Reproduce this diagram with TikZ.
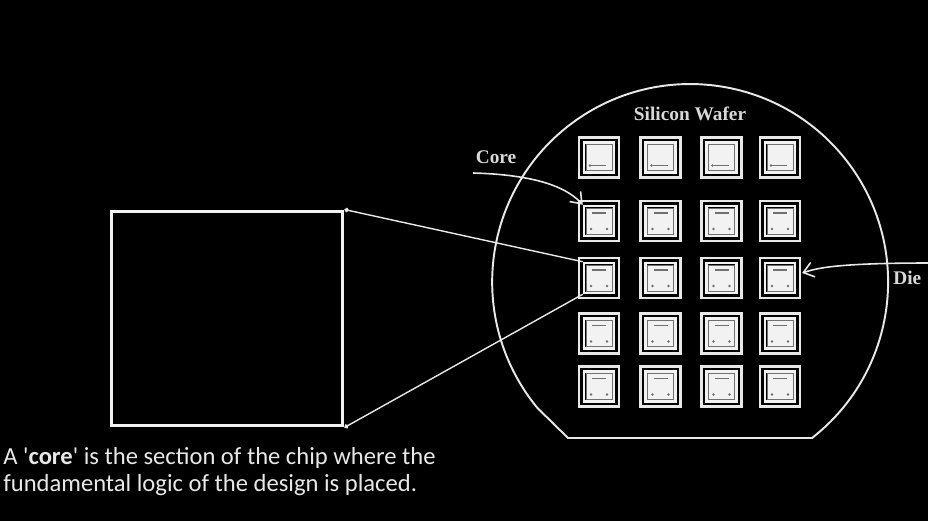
\documentclass[tikz,border=0pt]{standalone}
\usepackage{fontspec}
\setmainfont{Carlito}
\newfontfamily\labelfont{Liberation Serif}
\usepackage{tikz}
\usetikzlibrary{arrows.meta, positioning, calc}
\definecolor{linegray}{HTML}{E8E8E8}
\definecolor{textgray}{HTML}{D8D8D8}
\definecolor{markgray}{HTML}{707070}
\definecolor{diewhite}{HTML}{F2F2F2}
\tikzset{
    diebox/.style={rectangle, draw=linegray, line width=1.2pt, minimum size=0.8cm, inner sep=0pt},
    dieframe/.style={rectangle, draw=diewhite, line width=1.4pt, minimum size=0.6cm, inner sep=0pt},
    diecore/.style={rectangle, draw=markgray, fill=diewhite, line width=0.4pt, minimum size=0.52cm, inner sep=0pt},
    diemark/.style={draw=markgray, line width=0.6pt},
    corebox/.style={rectangle, draw=diewhite, line width=1.7pt, minimum width=4.64cm, minimum height=4.3cm, inner sep=0pt},
    waferlabel/.style={font=\labelfont\bfseries\fontsize{11}{13}\selectfont, text=textgray, inner sep=0pt},
    zoomline/.style={draw=linegray, line width=0.8pt},
    pointer/.style={draw=linegray, line width=0.9pt, -{Straight Barb[length=2mm, width=3mm]}}
}

\begin{document}
\begin{tikzpicture}[x=0.02cm, y=0.02cm]
% Wafer with a 5x4 grid of dies; one die blown up as the core.
  \fill[black] (0,0) rectangle (928,521);
  \useasboundingbox (0,0) rectangle (928,521);
  \draw[linegray, line width=1.1pt] (568,83) -- (812,83)
      arc[start angle=-52, end angle=219.5, radius=3.96cm] -- cycle;
  \node[waferlabel] (wafer-label) at (690,407) {Silicon Wafer};
  \foreach \y [count=\r] in {363.5, 300, 243, 187.5, 134.5} {
    \foreach \x [count=\c] in {599, 660.5, 721.5, 780} {
      \node[diebox] (d-\r-\c) at (\x,\y) {};
      \node[dieframe] (c-\r-\c) at (\x,\y) {};
      \node[diecore] at (\x,\y) {};
      \ifnum\r=1
        \draw[diemark] (\x-8,\y-8) -- (\x+7,\y-8);
        \fill[markgray] (\x-9,\y-8) circle (0.8pt);
      \else
        \draw[diemark] (\x-7,\y+8) -- (\x+7,\y+8);
        \fill[markgray] (\x-8,\y-8) circle (0.8pt);
        \fill[markgray] (\x+8,\y-8) circle (0.8pt);
      \fi
    }
  }
  \node[corebox] (core-box) at (227,202.5) {};
  \draw[zoomline, {Circle[length=2.5pt]}-] (core-box.north east) -- (c-3-1.north west);
  \draw[zoomline, {Circle[length=2.5pt]}-] (core-box.south east) -- (c-3-1.south west);
  \node[waferlabel] (core-label) at (496,364) {Core};
  \coordinate (core-tail) at (473,348);
  \draw[pointer] (core-tail) .. controls (545,346) and (570,330) .. (c-2-1.north west);
  \node[waferlabel, anchor=west] (die-label) at (893,243) {Die};
  \coordinate (die-tail) at (930,258);
  \draw[pointer] (die-tail) .. controls (830,258) and (815,252) .. ($(d-3-4.east)+(1,5)$);
  \node[anchor=north west, align=left, inner sep=0pt, text=linegray,
        font=\fontsize{14}{15.3}\selectfont] (caption) at (3,74)
      {A \textquotesingle\textbf{core}\textquotesingle{} is the section of the chip where the\\
       fundamental logic of the design is placed.};
\end{tikzpicture}
\end{document}
